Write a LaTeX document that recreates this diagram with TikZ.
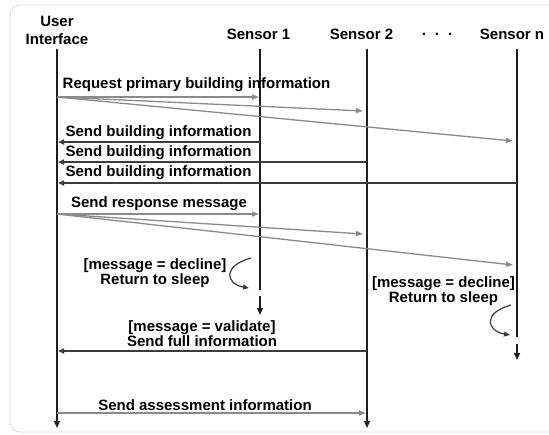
\documentclass[tikz,border=0pt]{standalone}
\usepackage{fontspec}
\setmainfont{Liberation Sans}
\usetikzlibrary{arrows.meta}
\definecolor{lifec}{HTML}{1E1E1E}
\definecolor{callc}{HTML}{8A8A8A}
\definecolor{replyc}{HTML}{3C3C3C}
\definecolor{framec}{HTML}{DADADA}
\begin{document}
\begin{tikzpicture}[x=1pt,y=-1pt,
  lbl/.style={font=\bfseries\fontsize{15}{14}\selectfont, inner sep=0pt, align=center, text=black},
  life/.style={draw=lifec, line width=2.4pt},
  lifeend/.style={life, -{Triangle[length=7pt,width=6pt]}},
  call/.style={draw=callc, line width=1.3pt, -{Triangle[length=7pt,width=5pt]}},
  reply/.style={draw=replyc, line width=1.6pt, -{Triangle[length=6pt,width=5pt]}},
  sleeparrow/.style={draw=replyc, line width=1.2pt, -{Triangle[length=6pt,width=5pt]}},
]
\useasboundingbox (0,0) rectangle (549,434);
% outer frame
\draw[framec, line width=0.8pt, rounded corners=10pt] (10,5) rectangle (580,432);

% participants
\node[lbl] (ui) at (57,30) {User\\[4pt]Interface};
\node[lbl] (s1) at (258.5,34) {Sensor 1};
\node[lbl] (s2) at (361.5,34) {Sensor 2};
\node[lbl] (dots) at (437,34) {.\hspace{9pt}.\hspace{9pt}.};
\node[lbl] (sn) at (512,34) {Sensor n};

% lifeline anchors
\coordinate (uiTop) at (57,49);   \coordinate (uiBot) at (57,428);
\coordinate (s1Top) at (260,49);  \coordinate (s1Cut) at (260,290);
\coordinate (s1Dash) at (260,296); \coordinate (s1Bot) at (260,315);
\coordinate (s2Top) at (367,49);  \coordinate (s2Bot) at (367,428);
\coordinate (snTop) at (517,49);  \coordinate (snCut) at (517,337);
\coordinate (snDash) at (517,344); \coordinate (snBot) at (517,360);

% lifelines
\draw[lifeend] (uiTop) -- (uiBot);
\draw[life] (s1Top) -- (s1Cut);
\draw[lifeend] (s1Dash) -- (s1Bot);
\draw[lifeend] (s2Top) -- (s2Bot);
\draw[life] (snTop) -- (snCut);
\draw[lifeend] (snDash) -- (snBot);

% request for building information
\coordinate (req) at (57,97);
\coordinate (req1) at (259,97);
\coordinate (req2) at (363,111);
\coordinate (reqn) at (513,141);
\node[lbl] (reqtxt) at (196.5,85) {Request primary building information};
\draw[call] (req) -- (req1);
\draw[call] (req) -- (req2);
\draw[call] (req) -- (reqn);

% replies with building information
\coordinate (b1) at (260,142); \coordinate (b1ui) at (58,142);
\coordinate (b2) at (367,162); \coordinate (b2ui) at (58,162);
\coordinate (bn) at (517,183); \coordinate (bnui) at (58,183);
\node[lbl] (b1txt) at (158.5,133) {Send building information};
\node[lbl] (b2txt) at (158.5,152.5) {Send building information};
\node[lbl] (bntxt) at (158.5,172.5) {Send building information};
\draw[reply] (b1) -- (b1ui);
\draw[reply] (b2) -- (b2ui);
\draw[reply] (bn) -- (bnui);

% response message
\coordinate (rsp) at (57,214);
\coordinate (rsp1) at (259,214);
\coordinate (rsp2) at (363,234);
\coordinate (rspn) at (513,265);
\node[lbl] (rsptxt) at (159,204) {Send response message};
\draw[call] (rsp) -- (rsp1);
\draw[call] (rsp) -- (rsp2);
\draw[call] (rsp) -- (rspn);

% sensor 1 declines
\node[lbl] (dec1) at (155,273.5) {[message = decline]\\Return to sleep};
\coordinate (z1a) at (251,258); \coordinate (z1b) at (249,288);
\draw[sleeparrow] (z1a) .. controls (222,266) and (226,284) .. (z1b);

% sensor n declines
\node[lbl] (decn) at (443.5,291) {[message = decline]\\Return to sleep};
\coordinate (zna) at (511,305); \coordinate (znb) at (510,335);
\draw[sleeparrow] (zna) .. controls (482,313) and (487,331) .. (znb);

% sensor 2 validates
\node[lbl] (val) at (202,334) {[message = validate]\\Send full information};
\coordinate (v2) at (367,351); \coordinate (vui) at (58,351);
\draw[reply] (v2) -- (vui);

% assessment
\coordinate (as) at (57,413); \coordinate (as2) at (366,413);
\node[lbl] (astxt) at (205,405) {Send assessment information};
\draw[call] (as) -- (as2);
\end{tikzpicture}
\end{document}
